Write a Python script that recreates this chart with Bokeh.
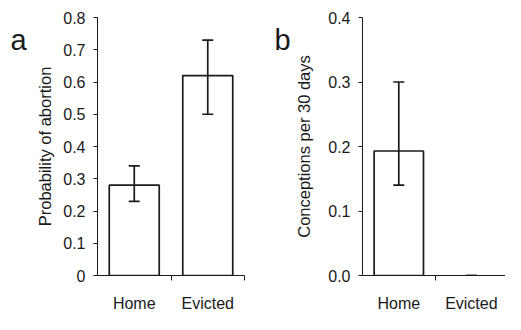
from bokeh.plotting import figure
from bokeh.layouts import row
from bokeh.models import (ColumnDataSource, Range1d, FixedTicker, Whisker, TeeHead)
from bokeh.core.properties import value
from bokeh.embed import file_html
from bokeh.resources import INLINE

categories = ["Home", "Evicted"]
abortion = [0.28, 0.62]
abortion_lo = [0.23, 0.50]
abortion_hi = [0.34, 0.73]
conceptions = [0.193, 0.0]
conceptions_lo = [0.14, 0.0]
conceptions_hi = [0.30, 0.0]
yticks_a = [0, 0.1, 0.2, 0.3, 0.4, 0.5, 0.6, 0.7, 0.8]
ylabels_a = ["0", "0.1", "0.2", "0.3", "0.4", "0.5", "0.6", "0.7", "0.8"]
yticks_b = [0.0, 0.1, 0.2, 0.3, 0.4]
ylabels_b = ["0.0", "0.1", "0.2", "0.3", "0.4"]
panel_letters = ["a", "b"]

FONT = "Liberation Sans"
INK = "#1a1a1a"
H = 314

xs = [i + 0.5 for i in range(len(categories))]
bounds = [i + 1 for i in range(len(categories))]


def letter_fig(letter, width, lx):
    p = figure(width=width, height=H, output_backend="svg", toolbar_location=None,
               x_range=Range1d(0, width), y_range=Range1d(H, 0),
               x_axis_type=None, y_axis_type=None, min_border=0)
    p.outline_line_color = None
    p.grid.visible = False
    p.text(x=[lx], y=[27], text=[letter], text_font=value(FONT), text_font_size="29px",
           text_color=INK, text_baseline="alphabetic", text_align="left")
    return p


def make_panel(vals, lo, hi, yticks, ylabels, ylabel, width, left, cat_px, xmax, ylab_standoff):
    src = ColumnDataSource(dict(x=xs, val=vals, lo=lo, hi=hi,
                                la=[1.0 if v > 0 else 0.0 for v in vals]))
    frame_w = int(round(cat_px * xmax))
    p = figure(width=width, height=H, output_backend="svg", toolbar_location=None,
               x_range=Range1d(0, xmax), y_range=Range1d(yticks[0], yticks[-1]),
               min_border_left=left, min_border_right=width - left - frame_w,
               min_border_top=17, min_border_bottom=36)
    p.outline_line_color = None
    p.grid.visible = False
    p.background_fill_color = "white"
    p.border_fill_color = "white"

    p.vbar(x="x", top="val", bottom=0, width=0.68, source=src,
           fill_color="white", line_color=INK, line_width=1.7, line_alpha="la")
    w = Whisker(source=src, base="x", lower="lo", upper="hi", dimension="height",
                line_color=INK, line_width=1.7, level="overlay",
                upper_head=TeeHead(size=11, line_color=INK, line_width=1.7),
                lower_head=TeeHead(size=11, line_color=INK, line_width=1.7))
    p.add_layout(w)

    xa = p.xaxis[0]
    xa.ticker = FixedTicker(ticks=xs, minor_ticks=bounds)
    xa.major_label_overrides = {x: c for x, c in zip(xs, categories)}
    xa.major_tick_out = 0
    xa.major_tick_in = 0
    xa.minor_tick_out = 5
    xa.minor_tick_in = 0
    xa.minor_tick_line_color = INK
    xa.axis_line_color = INK
    xa.major_label_text_font = FONT
    xa.major_label_text_font_size = "16px"
    xa.major_label_text_color = INK
    xa.major_label_standoff = 14

    ya = p.yaxis[0]
    ya.ticker = FixedTicker(ticks=yticks, minor_ticks=[])
    ya.major_label_overrides = {t: s for t, s in zip(yticks, ylabels)}
    ya.major_tick_out = 4
    ya.major_tick_in = 0
    ya.major_tick_line_color = INK
    ya.axis_line_color = INK
    ya.major_label_text_font = FONT
    ya.major_label_text_font_size = "16px"
    ya.major_label_text_color = INK
    ya.major_label_standoff = 8
    ya.axis_label = ylabel
    ya.axis_label_text_font = FONT
    ya.axis_label_text_font_size = "16.5px"
    ya.axis_label_text_font_style = "normal"
    ya.axis_label_text_color = INK
    ya.axis_label_standoff = ylab_standoff
    return p


la = letter_fig(panel_letters[0], 33, 10)
pa = make_panel(abortion, abortion_lo, abortion_hi, yticks_a, ylabels_a,
                "Probability of abortion", 219, 64, 73.5, 2.0, 6)
lb = letter_fig(panel_letters[1], 40, 22)
pb = make_panel(conceptions, conceptions_lo, conceptions_hi, yticks_b, ylabels_b,
                "Conceptions per 30 days", 213, 69, 73.0, 1.97, 12)

layout = row(la, pa, lb, pb, spacing=0)
open("out.html", "w").write(file_html(layout, INLINE))
